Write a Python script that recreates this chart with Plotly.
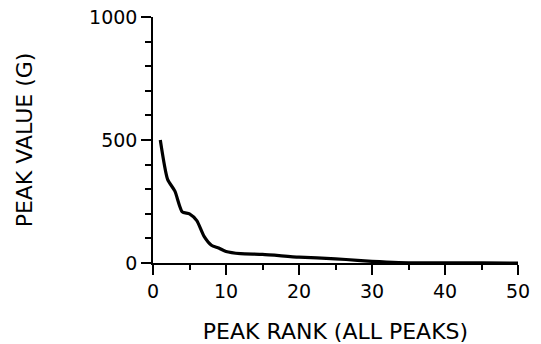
import plotly.graph_objects as go

# Peak values sorted by rank (all peaks)
peak_rank = [1, 2, 3, 4, 5, 6, 7, 8, 9, 10, 12, 15, 20, 25, 28, 30, 32, 35, 40, 45, 50]
peak_value = [500, 340, 292, 208, 200, 172, 108, 72, 61, 47, 38, 35, 24, 17, 11, 7, 4, 1, 0.5, 0.3, 0]

x_ticks = [0, 10, 20, 30, 40, 50]
y_ticks = [0, 500, 1000]

FONT = "DejaVu Sans"

fig = go.Figure()
fig.add_trace(go.Scatter(
    x=peak_rank, y=peak_value, mode="lines",
    line=dict(color="black", width=3.2, shape="spline", smoothing=0.6),
    showlegend=False, hoverinfo="skip",
))

fig.update_layout(
    width=541, height=344,
    margin=dict(l=153, r=23, t=17, b=81),
    paper_bgcolor="white", plot_bgcolor="white",
    font=dict(family=FONT, color="black", size=19),
)

fig.update_xaxes(
    range=[0, 50], tickvals=x_ticks, ticktext=[str(v) for v in x_ticks],
    showgrid=False, zeroline=False, automargin=False,
    showline=True, linecolor="black", linewidth=2,
    ticks="outside", ticklen=10, tickwidth=1.5, tickcolor="black",
    minor=dict(dtick=5, ticks="outside", ticklen=5, tickwidth=1.5, tickcolor="black"),
    tickfont=dict(size=19),
    title=dict(text="PEAK RANK (ALL PEAKS)", font=dict(size=22), standoff=25),
)
fig.update_yaxes(
    range=[0, 1000], tickvals=y_ticks, ticktext=[str(v) for v in y_ticks],
    showgrid=False, zeroline=False, automargin=False,
    showline=True, linecolor="black", linewidth=1.5,
    ticks="outside", ticklen=10, tickwidth=1.5, tickcolor="black",
    minor=dict(dtick=100, ticks="outside", ticklen=6, tickwidth=1.5, tickcolor="black"),
    tickfont=dict(size=19),
    title=dict(text="PEAK VALUE (G)", font=dict(size=22), standoff=50),
)

fig.write_html("out.html")
